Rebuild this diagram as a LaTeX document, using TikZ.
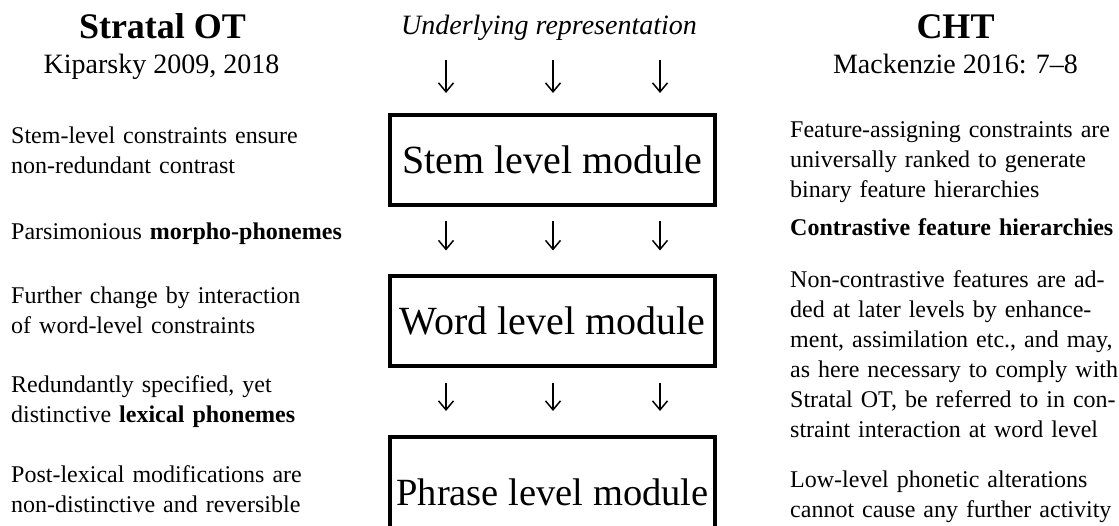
\documentclass[tikz,border=0pt]{standalone}
\usepackage{fontspec}
\setmainfont{Liberation Serif}
\usetikzlibrary{arrows.meta}

\begin{document}
\begin{tikzpicture}[x=1pt,y=-1pt,
  txt/.style={inner sep=0pt, anchor=base west, text width=340pt, align=left,
              font=\fontsize{24}{30}\selectfont},
  module/.style={draw, line width=4pt, minimum width=325pt, minimum height=90pt,
                 inner sep=0pt, font=\fontsize{40}{48}\selectfont},
  head/.style={inner sep=0pt, anchor=base, font=\fontsize{36}{40}\selectfont\bfseries},
  cite/.style={inner sep=0pt, anchor=base, font=\fontsize{28}{32}\selectfont},
  arr/.style={-{Straight Barb[length=9pt,width=15pt]}, line width=1.5pt}
]
\useasboundingbox (0,0) rectangle (1119,525);

% column headings
\node[head] (sot) at (162.5,38) {Stratal OT};
\node[cite] (kip) at (161.5,73) {Kiparsky 2009, 2018};
\node[head] (cht) at (955.5,38) {CHT};
\node[cite] (mac) at (955.5,73) {Mackenzie 2016: 7--8};

% centre column: input and the three modules
\node[inner sep=0pt, anchor=base, font=\fontsize{28}{32}\selectfont\itshape] (ur) at (549,34)
  {Underlying representation};
\node[module] (stem) at (552.5,160) {Stem level module};
\node[module] (word) at (552.5,320.5) {Word level module};
\node[module, minimum height=110pt, font=\fontsize{38.5}{46}\selectfont] (phrase) at (552.5,492)
  {Phrase level module};

% flow arrows between the levels
\foreach \dx in {-106.5,0.5,107.5}{
  \draw[arr, shorten <=20pt, shorten >=20pt]
    ([xshift=\dx]stem.north |- ur.south) -- ([xshift=\dx]stem.north);
  \draw[arr, shorten <=14pt, shorten >=23pt]
    ([xshift=\dx]stem.south) -- ([xshift=\dx]word.north);
  \draw[arr, shorten <=15pt, shorten >=24pt]
    ([xshift=\dx]word.south) -- ([xshift=\dx]phrase.north);
}

% left column: Stratal OT
\node[txt] (l1) at (11,143) {Stem-level constraints ensure\\non-redundant contrast};
\node[txt] (l2) at (11,239) {Parsimonious \textbf{morpho-phonemes}};
\node[txt] (l3) at (11,303) {Further change by interaction\\of word-level constraints};
\node[txt] (l4) at (11,392) {Redundantly specified, yet\\distinctive \textbf{lexical phonemes}};
\node[txt] (l5) at (11,482) {Post-lexical modifications are\\non-distinctive and reversible};

% right column: CHT
\node[txt] (r1) at (790,137) {Feature-assigning constraints are\\universally ranked to generate\\binary feature hierarchies};
\node[txt] (r2) at (790,235) {\textbf{Contrastive feature hierarchies}};
\node[txt] (r3) at (790,287) {%
  \makebox[318pt][s]{Non-contrastive features are ad-}\\
  \makebox[318pt][s]{ded at later levels by enhance-}\\
  \makebox[318pt][s]{ment, assimilation etc., and may,}\\
  \makebox[318pt][s]{as here necessary to comply with}\\
  \makebox[318pt][s]{Stratal OT, be referred to in con-}\\
  straint interaction at word level};
\node[txt] (r4) at (790,487) {Low-level phonetic alterations\\cannot cause any further activity};
\end{tikzpicture}
\end{document}
